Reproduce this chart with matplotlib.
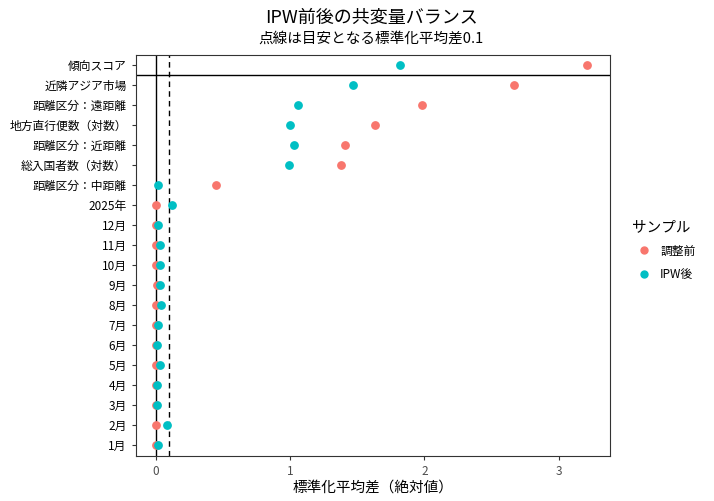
import matplotlib
matplotlib.use("Agg")
import matplotlib.pyplot as plt
from matplotlib.lines import Line2D

plt.rcParams['font.family'] = ['Noto Sans CJK JP', 'DejaVu Sans']

# rows listed bottom -> top
covariates = ["1月", "2月", "3月", "4月", "5月", "6月", "7月", "8月", "9月", "10月",
              "11月", "12月", "2025年", "距離区分：中距離", "総入国者数（対数）",
              "距離区分：近距離", "地方直行便数（対数）", "距離区分：遠距離",
              "近隣アジア市場", "傾向スコア"]
smd_before = [0.00, 0.00, 0.00, 0.00, 0.00, 0.00, 0.00, 0.00, 0.01, 0.00,
              0.00, 0.00, 0.00, 0.45, 1.38, 1.41, 1.63, 1.98, 2.67, 3.21]
smd_after = [0.02, 0.08, 0.01, 0.01, 0.03, 0.01, 0.02, 0.04, 0.03, 0.03,
             0.03, 0.02, 0.12, 0.02, 0.99, 1.03, 1.00, 1.06, 1.47, 1.82]

C_BEFORE = "#F8766D"
C_AFTER = "#00BFC4"

fig = plt.figure(figsize=(7.14, 5.01), dpi=100)
ax = fig.add_axes([0.19, 0.09, 0.664, 0.80])
ypos = list(range(1, len(covariates) + 1))

ax.axvline(0, color="black", lw=1)
ax.axvline(0.1, color="black", lw=1, ls=(0, (4, 3)))
ax.axhline(19.5, color="black", lw=1)
ax.scatter(smd_before, ypos, color=C_BEFORE, s=28, zorder=3)
ax.scatter(smd_after, ypos, color=C_AFTER, s=28, zorder=3)

ax.set_yticks(ypos)
ax.set_yticklabels(covariates, fontsize=8.5)
ax.set_xticks([0, 1, 2, 3])
ax.set_xticklabels(["0", "1", "2", "3"], fontsize=8.5, color="#4d4d4d")
ax.set_xlim(-0.15, 3.38)
ax.set_ylim(0.45, 20.5)
ax.tick_params(length=3, color="#333333")
for s in ax.spines.values():
    s.set_color("#333333")
ax.set_xlabel("標準化平均差（絶対値）", fontsize=10.5, labelpad=2)

fig.text(0.52, 0.965, "IPW前後の共変量バランス", ha="center", va="center", fontsize=13)
fig.text(0.52, 0.922, "点線は目安となる標準化平均差0.1", ha="center", va="center", fontsize=10.5)

handles = [Line2D([], [], marker="o", ls="", color=C_BEFORE, ms=5, label="調整前"),
           Line2D([], [], marker="o", ls="", color=C_AFTER, ms=5, label="IPW後")]
fig.legend(handles=handles, title="サンプル", loc="center left",
           bbox_to_anchor=(0.87, 0.5), frameon=False, fontsize=8.5,
           title_fontsize=10.5, handletextpad=0.4, labelspacing=0.9)
leg = fig.legends[0]
leg._legend_box.align = "left"

fig.savefig("out.png", dpi=100)
